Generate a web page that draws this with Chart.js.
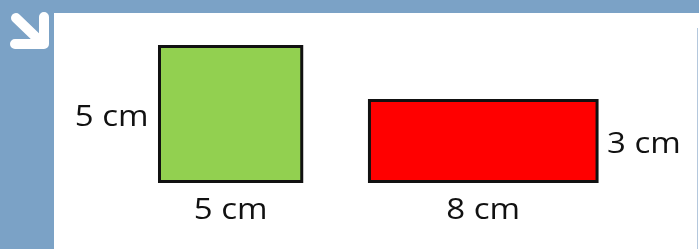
<!DOCTYPE html>
<html lang="en">
<head>
    <meta charset="UTF-8">
    <title>Square and Rectangle</title>
    <script src="https://cdn.jsdelivr.net/npm/chart.js"></script>
    <style>
        html, body {
            margin: 0;
            padding: 0;
            width: 699px;
            height: 249px;
            overflow: hidden;
            background: #7ba2c6;
        }

        .panel {
            position: absolute;
            left: 54px;
            top: 13px;
            width: 645px;
            height: 236px;
            background: #ffffff;
        }

        .edge {
            position: absolute;
            left: 697px;
            top: 28px;
            width: 1px;
            height: 221px;
            background: #b4c8dd;
        }

        .icon {
            position: absolute;
            left: 0;
            top: 0;
        }

        #shapes {
            position: absolute;
            left: 0;
            top: 0;
        }
    </style>
</head>
<body>
    <div class="panel"></div>
    <div class="edge"></div>
    <svg class="icon" width="54" height="60">
        <g fill="none" stroke="#ffffff" stroke-width="10" stroke-linecap="round" stroke-linejoin="round">
            <line x1="16" y1="18" x2="41" y2="42"/>
            <polyline points="15,44 44,44 44,17"/>
        </g>
    </svg>
    <canvas id="shapes" width="699" height="249"></canvas>

    <script>
        // Shapes and their side lengths (cm)
        const shapeNames = ['Square', 'Rectangle'];
        const widthsCm = [5, 8];
        const heightsCm = [5, 3];
        const unitLabel = 'cm';

        // where each shape sits and how it looks
        const leftEdges = [0, 7.38];
        const heightLabelSide = ['left', 'right'];
        const fillColors = ['#92d050', '#ff0000'];

        // closed outline for each shape, in cm (bottom edge repeated so the last corner joins)
        function outline(i) {
            const x0 = leftEdges[i], x1 = leftEdges[i] + widthsCm[i], h = heightsCm[i];
            return [
                {x: x0, y: 0}, {x: x1, y: 0}, {x: x1, y: h}, {x: x0, y: h}, {x: x0, y: 0}, {x: x1, y: 0}
            ];
        }

        // side length labels
        const sideLabels = {
            id: 'sideLabels',
            afterDatasetsDraw(chart) {
                const {ctx, scales: {x, y}} = chart;
                const stretch = 1.1;

                function label(text, px, py, align) {
                    ctx.save();
                    ctx.translate(px, py);
                    ctx.scale(stretch, 1);
                    ctx.textAlign = align;
                    ctx.fillText(text, 0, 0);
                    ctx.restore();
                }

                ctx.save();
                ctx.fillStyle = '#111111';
                ctx.font = '30px "Open Sans"';
                ctx.textBaseline = 'alphabetic';
                shapeNames.forEach((name, i) => {
                    const left = x.getPixelForValue(leftEdges[i]);
                    const right = x.getPixelForValue(leftEdges[i] + widthsCm[i]);
                    const bottom = y.getPixelForValue(0);
                    const top = y.getPixelForValue(heightsCm[i]);

                    // width under the shape
                    label(widthsCm[i] + ' ' + unitLabel, (left + right) / 2, bottom + 37.5, 'center');

                    // height beside the shape
                    const mid = (top + bottom) / 2 + 12.5;
                    if (heightLabelSide[i] === 'left') {
                        label(heightsCm[i] + ' ' + unitLabel, left - 11, mid, 'right');
                    } else {
                        label(heightsCm[i] + ' ' + unitLabel, right + 10, mid, 'left');
                    }
                });
                ctx.restore();
            }
        };

        const ctx = document.getElementById('shapes').getContext('2d');
        const shapesChart = new Chart(ctx, {
            type: 'scatter',
            data: {
                datasets: shapeNames.map((name, i) => ({
                    label: name,
                    data: outline(i),
                    showLine: true,
                    fill: 'shape',
                    backgroundColor: fillColors[i],
                    borderColor: '#111111',
                    borderWidth: 3,
                    borderJoinStyle: 'miter',
                    tension: 0,
                    pointRadius: 0,
                    pointHoverRadius: 0,
                    clip: false
                }))
            },
            options: {
                responsive: false,
                animation: false,
                layout: { padding: 0 },
                plugins: {
                    legend: { display: false },
                    tooltip: { enabled: false },
                    filler: { drawTime: 'beforeDatasetsDraw' }
                },
                scales: {
                    x: { type: 'linear', min: -5.606, max: 18.963, display: false },
                    y: { type: 'linear', min: -2.5, max: 6.722, display: false }
                }
            },
            plugins: [sideLabels]
        });
    </script>
</body>
</html>
